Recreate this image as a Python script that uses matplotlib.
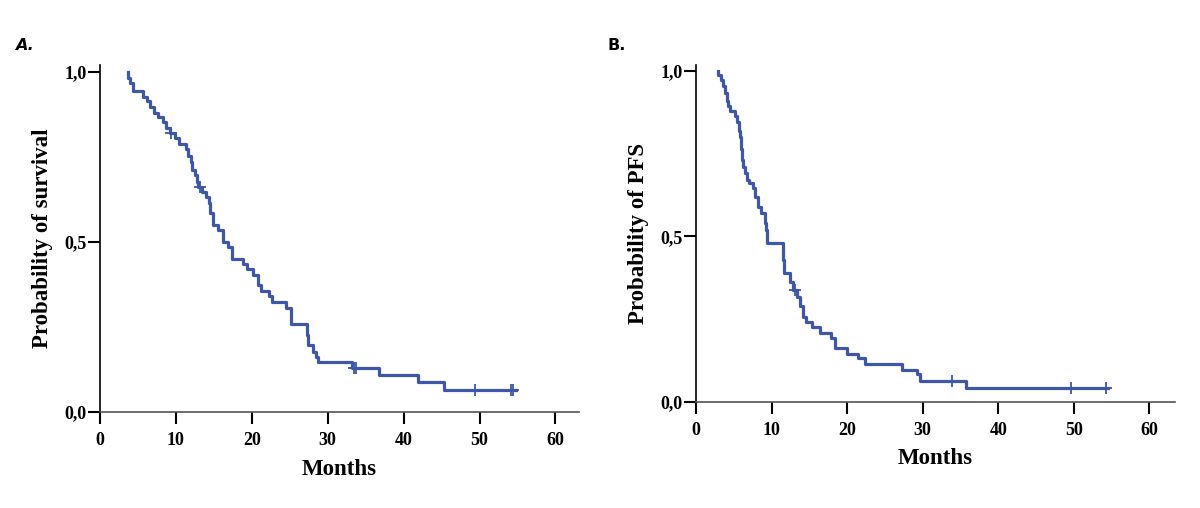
import matplotlib
matplotlib.use("Agg")
import matplotlib.pyplot as plt
import numpy as np

# overall survival: event times (months) and survival just after each event
os_times = [3.7, 3.9, 4.3, 5.7, 6.2, 6.65, 7.1, 7.7, 8.26, 8.7, 9.2, 9.9, 10.45,
            11.3, 11.6, 11.95, 12.1, 12.5, 12.8, 12.9, 13.4, 14.0, 14.3, 14.5,
            14.85, 15.6, 16.2, 16.9, 17.35, 18.8, 19.3, 20.2, 20.85, 21.15,
            22.3, 22.6, 24.5, 25.2, 27.3, 27.45, 28.1, 28.5, 28.75, 33.2,
            36.8, 41.9, 45.35]
os_surv = [0.983, 0.966, 0.943, 0.927, 0.913, 0.898, 0.880, 0.867, 0.851, 0.834,
           0.821, 0.804, 0.788, 0.772, 0.752, 0.736, 0.712, 0.697, 0.677, 0.662,
           0.647, 0.632, 0.613, 0.584, 0.550, 0.535, 0.501, 0.486, 0.451, 0.436,
           0.419, 0.403, 0.373, 0.357, 0.341, 0.324, 0.307, 0.259, 0.226, 0.197,
           0.177, 0.162, 0.146, 0.130, 0.110, 0.087, 0.065]
os_censor = [9.35, 13.2, 33.4, 33.7, 49.4, 54.15, 54.4]
os_end = 54.8

# progression-free survival
pfs_times = [2.87, 3.3, 3.55, 3.85, 4.06, 4.28, 4.5, 5.16, 5.47, 5.7, 5.8, 5.9,
             6.0, 6.05, 6.26, 6.5, 6.7, 7.05, 7.6, 7.8, 8.25, 8.6, 9.15, 9.3,
             9.45, 11.45, 11.65, 12.5, 12.8, 13.4, 13.7, 14.2, 14.6, 15.4,
             16.4, 17.9, 18.4, 20.0, 21.4, 22.4, 27.2, 29.3, 29.6, 35.8]
pfs_surv = [0.988, 0.973, 0.955, 0.933, 0.910, 0.895, 0.879, 0.864, 0.847, 0.82,
            0.80, 0.78, 0.765, 0.731, 0.711, 0.691, 0.671, 0.661, 0.646, 0.620,
            0.590, 0.570, 0.540, 0.52, 0.479, 0.43, 0.389, 0.363, 0.338, 0.318,
            0.290, 0.258, 0.243, 0.228, 0.209, 0.192, 0.162, 0.145, 0.132,
            0.115, 0.097, 0.085, 0.064, 0.043]
pfs_censor = [13.1, 33.9, 49.6, 54.3]
pfs_end = 54.5

xticks = [0, 10, 20, 30, 40, 50, 60]
yticks = [0.0, 0.5, 1.0]
yticklabels = ["0,0", "0,5", "1,0"]

line_col = "#3E57A8"
serif = "Liberation Serif"


def km_panel(ax, times, surv, censor, t_end, ylabel, ymax, xmax):
    xs = [times[0]] + list(times) + [t_end]
    ys = [1.0] + list(surv) + [surv[-1]]
    ax.step(xs, ys, where="post", color=line_col, lw=2.3)
    # censor marks sit on the curve
    idx = np.searchsorted(times, censor, side="right") - 1
    cy = [surv[i] if i >= 0 else 1.0 for i in idx]
    ax.plot(censor, cy, ls="none", marker="+", ms=8, mew=1.3, color=line_col)

    ax.set_xlim(0, xmax)
    ax.set_ylim(0, ymax)
    ax.set_xticks(xticks)
    ax.set_yticks(yticks)
    ax.set_yticklabels(yticklabels)
    for s in ["top", "right"]:
        ax.spines[s].set_visible(False)
    ax.spines["left"].set_linewidth(1.2)
    ax.spines["left"].set_color("black")
    ax.spines["bottom"].set_linewidth(1.2)
    ax.spines["bottom"].set_color("#555555")
    ax.tick_params(axis="x", length=8.5, width=1.5, pad=6, color="black")
    ax.tick_params(axis="y", length=9, width=1.5, pad=0.5, color="black")
    for lab in ax.get_xticklabels() + ax.get_yticklabels():
        lab.set_fontfamily(serif)
        lab.set_fontweight("bold")
        lab.set_fontsize(13)
    ax.set_xlabel("Months", fontfamily=serif, fontweight="bold", fontsize=16.5)
    ax.set_ylabel(ylabel, fontfamily=serif, fontweight="bold", fontsize=16.5)
    ax.yaxis.set_label_coords(-0.099, 0.5)


fig = plt.figure(figsize=(12, 5.08), dpi=100)
axA = fig.add_axes([100 / 1200, 96 / 508, 479 / 1200, 347 / 508])
axB = fig.add_axes([696 / 1200, 106 / 508, 479 / 1200, 337 / 508])

km_panel(axA, os_times, os_surv, os_censor, os_end, "Probability of survival", 1.02, 63.1)
km_panel(axB, pfs_times, pfs_surv, pfs_censor, pfs_end, "Probability of PFS", 1.018, 63.4)
axA.xaxis.set_label_coords(0.5, -0.135)
axB.xaxis.set_label_coords(0.5, -0.137)

fig.text(24 / 1200, 1 - 45 / 508, "A.", fontfamily="DejaVu Sans", fontweight="bold",
         fontstyle="italic", fontsize=11.5, ha="center", va="center")
fig.text(617 / 1200, 1 - 45 / 508, "B.", fontfamily="DejaVu Sans", fontweight="bold",
         fontsize=11.5, ha="center", va="center")

fig.savefig("out.png", dpi=100, facecolor="white")
